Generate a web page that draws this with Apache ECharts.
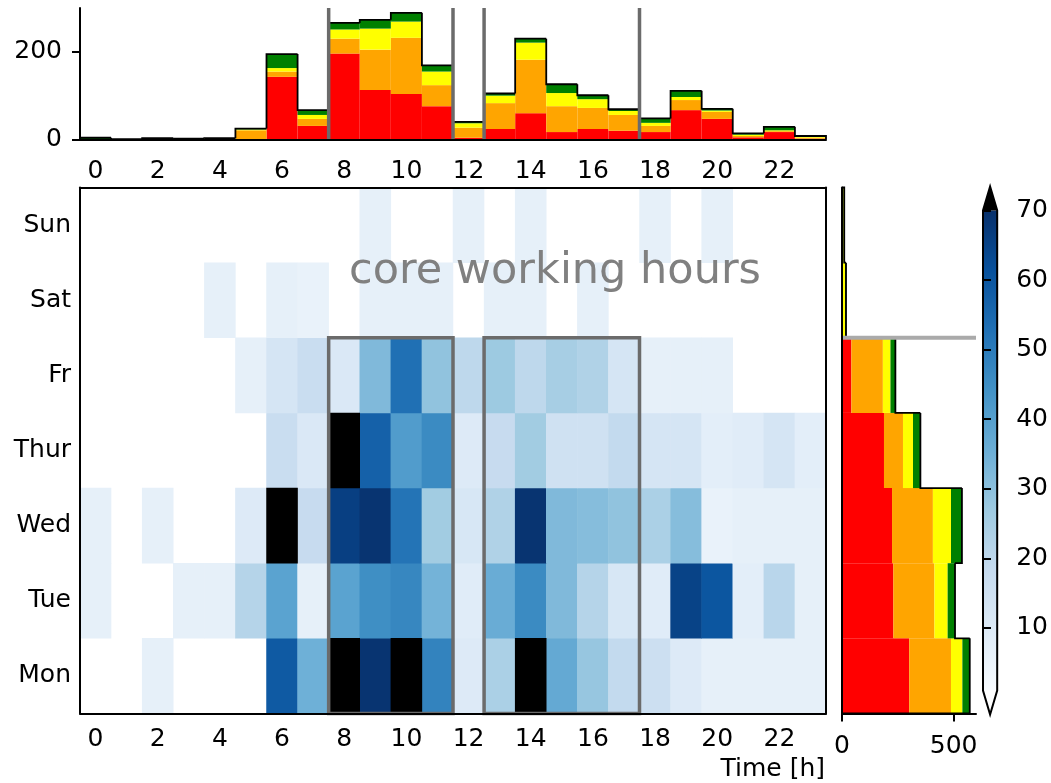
<!DOCTYPE html>
<html><head><meta charset="utf-8">
<script src="https://cdn.jsdelivr.net/npm/echarts@6/dist/echarts.min.js"></script>
<style>html,body{margin:0;padding:0;background:#fff}#c{width:1051px;height:783px}</style>
</head><body><div id="c"></div>
<script>
// ---------- data ----------
const hours = ['0','1','2','3','4','5','6','7','8','9','10','11','12','13','14','15','16','17','18','19','20','21','22','23'];
const days = ['Mon','Tue','Wed','Thur','Fr','Sat','Sun'];

// heatmap values per weekday, hours 0..23
const mon  = [0,0,7,0,0,0,59,35,80,69,80,48,10,24,80,37,28,19,16,10,7,7,7,7];
const tue  = [7,0,0,7,7,22,39,7,39,45,47,34,9,36,46,32,22,12,9,65,60,8,21,7];
const wed  = [7,0,7,0,0,10,80,18,66,69,52,26,12,23,69,32,31,29,24,31,6,7,7,7];
const thur = [0,0,0,0,0,0,17,11,80,57,41,46,10,18,26,15,15,19,13,13,8,9,13,8];
const fr   = [0,0,0,0,0,7,13,17,11,32,53,29,20,27,20,25,23,13,7,7,7,0,0,0];
const sat  = [0,0,0,0,7,0,7,6,0,7,7,7,0,7,7,0,7,0,0,0,0,0,0,0];
const sun  = [0,0,0,0,0,0,0,0,0,7,0,0,7,0,7,0,0,0,7,0,7,0,0,0];

// top histogram (per hour), stacked categories
const hourRed    = [0,0,0,0,0,0,143,31,196,113,104,76,4,24,60,17,24,20,17,67,47,5,17,2];
const hourOrange = [0,0,1,0,1,21,12,16,34,92,128,48,23,59,122,59,48,36,14,23,16,3,2,2];
const hourYellow = [1,0,1,1,1,2,8,9,21,48,37,31,10,17,39,30,20,9,7,7,3,3,2,2];
const hourGreen  = [3,1,1,1,1,2,32,11,15,20,20,14,3,5,9,20,9,4,10,14,4,3,8,2];

// right histogram (per weekday), stacked categories
const dayRed    = [301,230,224,188,42,0,0];
const dayOrange = [187,184,183,85,141,2,1];
const dayYellow = [51,59,81,45,34,12,7];
const dayGreen  = [33,33,49,33,22,4,2];

// tick labels / ranges
const topHistTicks = [0,200];
const rightHistTicks = [0,500];
const cbTicks = [10,20,30,40,50,60,70];
const cbMin = 1, cbMax = 70;

// core working hour blocks [first hour, last hour], last workday index
const coreBlocks = [[8,11],[13,17]];
const lastWorkday = 4;

// ---------- derived ----------
const rows = [mon,tue,wed,thur,fr,sat,sun];
const heatData = [], overData = [];
rows.forEach((row,d)=>row.forEach((v,h)=>{
  if (v > cbMax) overData.push([h,d,v]);
  else if (v > 0) heatData.push([h,d,v]);
}));
const hourTot = hours.map((_,i)=>hourRed[i]+hourOrange[i]+hourYellow[i]+hourGreen[i]);
const dayTot = days.map((_,i)=>dayRed[i]+dayOrange[i]+dayYellow[i]+dayGreen[i]);

const FONT = 'DejaVu Sans';
const FS = 25;
const BLUES = ['#f7fbff','#deebf7','#c6dbef','#9ecae1','#6baed6','#4292c6','#2171b5','#08519c','#08306b'];
const C = {red:'#ff0000', orange:'#ffa500', yellow:'#ffff00', green:'#008000'};
const line2 = {color:'#000', width:2};
const lbl = {fontSize:FS, color:'#000', fontFamily:FONT};

const chart = echarts.init(document.getElementById('c'), null, {renderer:'canvas'});

const option = {
  animation:false,
  textStyle:{fontFamily:FONT},
  grid:[
    {left:80, top:187.5, width:746, height:526},   // heatmap
    {left:80, top:8, width:746, height:131.5},     // top hist
    {left:842, top:187.5, width:134, height:526},  // right hist
    {left:983, top:210.5, width:15, height:480}    // colorbar
  ],
  visualMap:{
    type:'continuous', show:false, seriesIndex:0, dimension:2,
    min:cbMin, max:cbMax,
    inRange:{color:BLUES}
  },
  xAxis:[
    {type:'category', data:hours, gridIndex:0, position:'bottom', z:10,
     axisLine:{lineStyle:line2}, splitLine:{show:false},
     axisTick:{inside:true, length:8, interval:1, alignWithLabel:true, lineStyle:line2},
     axisLabel:Object.assign({interval:1, margin:13}, lbl)},
    {type:'category', data:hours, gridIndex:0, position:'top', z:10,
     axisLine:{lineStyle:line2}, splitLine:{show:false},
     axisTick:{inside:true, length:8, interval:1, alignWithLabel:true, lineStyle:line2},
     axisLabel:{show:false}},
    {type:'category', data:hours, gridIndex:1, position:'bottom', z:10,
     axisLine:{lineStyle:line2}, splitLine:{show:false},
     axisTick:{inside:false, length:8, interval:1, alignWithLabel:true, lineStyle:line2},
     axisLabel:Object.assign({interval:1, margin:19}, lbl)},
    {type:'value', gridIndex:2, min:0, max:600, z:10,
     axisLine:{show:true, lineStyle:line2}, splitLine:{show:false},
     axisTick:{show:true, inside:false, length:8, lineStyle:line2, customValues:rightHistTicks},
     axisLabel:Object.assign({margin:20, customValues:rightHistTicks}, lbl)},
    {type:'value', gridIndex:3, min:0, max:1, show:false}
  ],
  yAxis:[
    {type:'category', data:days, gridIndex:0, position:'left', z:10,
     axisLine:{lineStyle:line2}, splitLine:{show:false},
     axisTick:{inside:true, length:8, alignWithLabel:true, lineStyle:line2},
     axisLabel:Object.assign({margin:9}, lbl)},
    {type:'category', data:days, gridIndex:0, position:'right', z:10,
     axisLine:{lineStyle:line2}, splitLine:{show:false},
     axisTick:{inside:true, length:8, alignWithLabel:true, lineStyle:line2},
     axisLabel:{show:false}},
    {type:'value', gridIndex:1, min:0, max:300, z:10,
     axisLine:{show:true, lineStyle:line2}, splitLine:{show:false},
     axisTick:{show:true, inside:false, length:8, lineStyle:line2, customValues:topHistTicks},
     axisLabel:Object.assign({margin:18, customValues:topHistTicks}, lbl)},
    {type:'category', data:days, gridIndex:2, position:'left', z:10,
     axisLine:{lineStyle:line2}, splitLine:{show:false},
     axisTick:{inside:false, length:8, alignWithLabel:true, lineStyle:line2},
     axisLabel:{show:false}},
    {type:'value', gridIndex:3, min:cbMin, max:cbMax, position:'right', z:10,
     axisLine:{show:false}, splitLine:{show:false},
     axisTick:{show:true, inside:false, length:8, lineStyle:line2, customValues:cbTicks},
     axisLabel:Object.assign({margin:19, customValues:cbTicks}, lbl)}
  ],
  series:[
    {type:'heatmap', xAxisIndex:0, yAxisIndex:0, data:heatData, emphasis:{disabled:true}, progressive:0},
    // values above the colour range
    {type:'heatmap', xAxisIndex:0, yAxisIndex:0, data:overData, emphasis:{disabled:true}, progressive:0,
     itemStyle:{color:'#000000'}},
    // core working hours boxes
    {type:'custom', xAxisIndex:0, yAxisIndex:0, z:5, silent:true,
     data:coreBlocks,
     encode:{x:[0,1]},
     renderItem:function(params, api){
       const s = api.value(0), e = api.value(1);
       const bw = api.size([1,0])[0], bh = api.size([0,1])[1];
       const x0 = api.coord([s,0])[0]-bw/2, x1 = api.coord([e,0])[0]+bw/2;
       const yb = api.coord([0,0])[1]+bh/2, yt = api.coord([0,lastWorkday])[1]-bh/2;
       return {type:'rect', shape:{x:x0, y:yt, width:x1-x0, height:yb-yt},
               style:{fill:null, stroke:'#6b6b6b', lineWidth:3.5}};
     }},
    // top histogram
    {type:'bar', stack:'h', xAxisIndex:2, yAxisIndex:2, data:hourRed, barWidth:'100%', itemStyle:{color:C.red}},
    {type:'bar', stack:'h', xAxisIndex:2, yAxisIndex:2, data:hourOrange, barWidth:'100%', itemStyle:{color:C.orange}},
    {type:'bar', stack:'h', xAxisIndex:2, yAxisIndex:2, data:hourYellow, barWidth:'100%', itemStyle:{color:C.yellow}},
    {type:'bar', stack:'h', xAxisIndex:2, yAxisIndex:2, data:hourGreen, barWidth:'100%', itemStyle:{color:C.green}},
    // top histogram step outline
    {type:'custom', xAxisIndex:2, yAxisIndex:2, z:4, silent:true,
     data:hourTot.map((t,i)=>[i,t]),
     encode:{x:0, y:1},
     renderItem:function(params, api){
       const i = api.value(0), t = api.value(1);
       const prev = i>0 ? hourTot[i-1] : 0;
       const bw = api.size([1,0])[0];
       const c = api.coord([i,t]), cp = api.coord([i,prev]);
       const pts = [[c[0]-bw/2, cp[1]],[c[0]-bw/2, c[1]],[c[0]+bw/2, c[1]]];
       if (i === hourTot.length-1) pts.push([c[0]+bw/2, api.coord([i,0])[1]]);
       return {type:'polyline', shape:{points:pts}, style:{stroke:'#000', lineWidth:1.8, fill:null}};
     }},
    // top histogram core hour separators
    {type:'custom', xAxisIndex:2, yAxisIndex:2, z:6, silent:true,
     data:coreBlocks,
     encode:{x:[0,1]},
     renderItem:function(params, api){
       const s = api.value(0), e = api.value(1);
       const bw = api.size([1,0])[0];
       const cs = params.coordSys;
       const xs = [api.coord([s,0])[0]-bw/2, api.coord([e,0])[0]+bw/2];
       return {type:'group', children: xs.map(x=>({type:'line',
         shape:{x1:x, y1:cs.y, x2:x, y2:cs.y+cs.height},
         style:{stroke:'#6b6b6b', lineWidth:3.5}}))};
     }},
    // right histogram
    {type:'bar', stack:'d', xAxisIndex:3, yAxisIndex:3, data:dayRed, barWidth:'100%', itemStyle:{color:C.red}},
    {type:'bar', stack:'d', xAxisIndex:3, yAxisIndex:3, data:dayOrange, barWidth:'100%', itemStyle:{color:C.orange}},
    {type:'bar', stack:'d', xAxisIndex:3, yAxisIndex:3, data:dayYellow, barWidth:'100%', itemStyle:{color:C.yellow}},
    {type:'bar', stack:'d', xAxisIndex:3, yAxisIndex:3, data:dayGreen, barWidth:'100%', itemStyle:{color:C.green}},
    // right histogram step outline
    {type:'custom', xAxisIndex:3, yAxisIndex:3, z:4, silent:true,
     data:dayTot.map((t,i)=>[t,i]),
     encode:{x:0, y:1},
     renderItem:function(params, api){
       const t = api.value(0), j = api.value(1);
       const prev = j>0 ? dayTot[j-1] : 0;
       const bh = api.size([0,1])[1];
       const c = api.coord([t,j]), cp = api.coord([prev,j]);
       const pts = [[cp[0], c[1]+bh/2],[c[0], c[1]+bh/2],[c[0], c[1]-bh/2]];
       if (j === dayTot.length-1) pts.push([api.coord([0,j])[0], c[1]-bh/2]);
       return {type:'polyline', shape:{points:pts}, style:{stroke:'#000', lineWidth:1.8, fill:null}};
     }},
    // weekend separator
    {type:'custom', xAxisIndex:3, yAxisIndex:3, z:6, silent:true,
     data:[[0,lastWorkday]],
     encode:{x:0, y:1},
     renderItem:function(params, api){
       const bh = api.size([0,1])[1];
       const cs = params.coordSys;
       const y = api.coord([0, api.value(1)])[1]-bh/2;
       return {type:'line', shape:{x1:cs.x, y1:y, x2:cs.x+cs.width, y2:y},
               style:{stroke:'#aaaaaa', lineWidth:4}};
     }},
    // colorbar
    {type:'custom', xAxisIndex:4, yAxisIndex:4, silent:true,
     data:[[0,cbMin,cbMax]],
     encode:{y:[1,2]},
     renderItem:function(params, api){
       const cs = params.coordSys;
       const x0 = cs.x, x1 = cs.x+cs.width, xm = (x0+x1)/2;
       const yt = api.coord([0, api.value(2)])[1], yb = api.coord([0, api.value(1)])[1];
       const ext = 0.05*(yb-yt);
       const stops = BLUES.map((c,k)=>({offset:k/(BLUES.length-1), color:c}));
       return {type:'group', children:[
         {type:'rect', shape:{x:x0, y:yt, width:x1-x0, height:yb-yt},
          style:{fill:new echarts.graphic.LinearGradient(0,1,0,0,stops)}},
         {type:'polygon', shape:{points:[[x0,yt],[xm,yt-ext],[x1,yt]]}, style:{fill:'#000'}},
         {type:'polygon', shape:{points:[[x0,yb],[xm,yb+ext],[x1,yb]]}, style:{fill:'#fff'}},
         {type:'polygon', shape:{points:[[xm,yb+ext],[x0,yb],[x0,yt],[xm,yt-ext],[x1,yt],[x1,yb]]},
          style:{fill:null, stroke:'#000', lineWidth:2}}
       ]};
     }}
  ],
  graphic:[
    {type:'text', x:555, y:272, z:20, silent:true,
     style:{text:'core working hours', fill:'#808080', fontSize:43, fontFamily:FONT, align:'center', verticalAlign:'middle'}},
    {type:'text', x:825, y:769, z:20, silent:true,
     style:{text:'Time [h]', fill:'#000', fontSize:FS, fontFamily:FONT, align:'right', verticalAlign:'middle'}}
  ]
};
chart.setOption(option);
</script>
</body></html>
